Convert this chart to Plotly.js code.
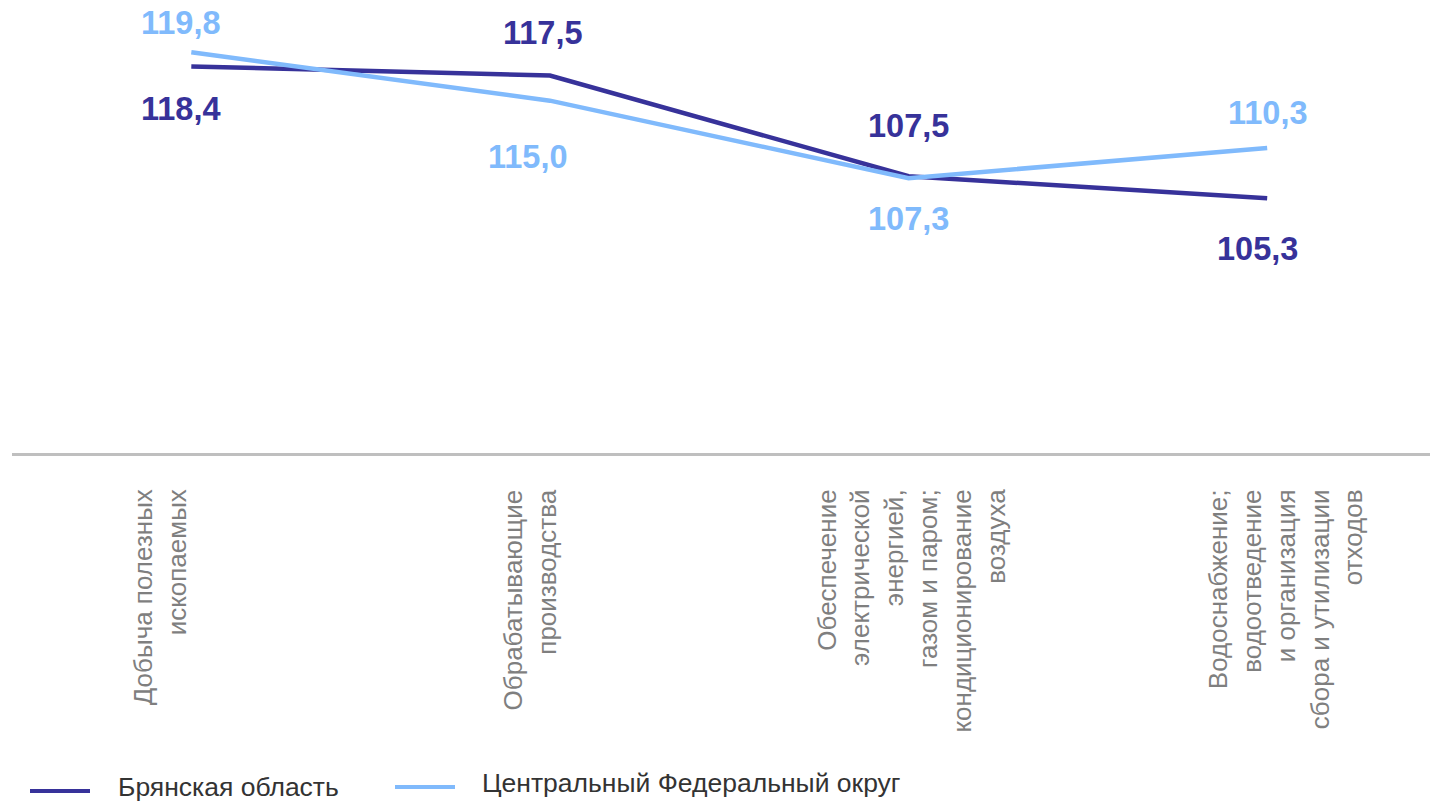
<!DOCTYPE html>
<html>
<head>
<meta charset="utf-8">
<script src="https://cdn.plot.ly/plotly-3.0.1.min.js"></script>
<style>html,body{margin:0;padding:0;background:#fff}#chart{width:1430px;height:804px}</style>
</head>
<body>
<div id="chart"></div>
<script>
var categories = [
  "Добыча полезных<br>ископаемых",
  "Обрабатывающие<br>производства",
  "Обеспечение<br>электрической<br>энергией,<br>газом и паром;<br>кондиционирование<br>воздуха",
  "Водоснабжение;<br>водоотведение<br>и организация<br>сбора и утилизации<br>отходов"
];
var seriesNames = ["Брянская область", "Центральный Федеральный округ"];
var bryansk = [118.4, 117.5, 107.5, 105.3];
var cfo = [119.8, 115.0, 107.3, 110.3];

// label offsets (pixels), styling only
var bryanskShiftY = [-43, 43, 50, -51];
var bryanskShiftX = [-10, -7, 0, -10];
var cfoShiftY = [29, -56, -41, 35];
var cfoShiftX = [-10, -22, 0, 1];
var categoryShiftX = [-31, -20, 2, 18];

var darkColor = "#37329A";
var lightColor = "#80BAFC";
var xIdx = categories.map(function(c, i){ return i; });

function fmt(v){ return v.toFixed(1).replace(".", ","); }

var traces = [
  {x: xIdx, y: bryansk, type: "scatter", mode: "lines", name: seriesNames[0],
   line: {color: darkColor, width: 4.5}, cliponaxis: false, showlegend: false, hoverinfo: "skip"},
  {x: xIdx, y: cfo, type: "scatter", mode: "lines", name: seriesNames[1],
   line: {color: lightColor, width: 4.5}, cliponaxis: false, showlegend: false, hoverinfo: "skip"}
];

var FONT = "Liberation Sans, Arial, sans-serif";
var annotations = [];
bryansk.forEach(function(v, i){
  annotations.push({x: i, y: v, xref: "x", yref: "y", text: fmt(v), showarrow: false,
    xshift: bryanskShiftX[i], yshift: bryanskShiftY[i],
    font: {family: FONT, size: 32.5, color: darkColor, weight: "bold"}});
});
cfo.forEach(function(v, i){
  annotations.push({x: i, y: v, xref: "x", yref: "y", text: fmt(v), showarrow: false,
    xshift: cfoShiftX[i], yshift: cfoShiftY[i],
    font: {family: FONT, size: 32.5, color: lightColor, weight: "bold"}});
});

var plotL = 12, plotW = 1418, plotB = 453;
function px(x){ return (x - plotL) / plotW; }
function py(y){ return (plotB - y) / plotB; }

// category labels (rotated, below the axis line)
categories.forEach(function(c, i){
  annotations.push({x: i, xref: "x", y: py(487), yref: "paper", text: c, showarrow: false,
    textangle: -90, xanchor: "center", yanchor: "top", align: "right",
    xshift: categoryShiftX[i],
    font: {family: FONT, size: 26, color: "#7F7F7F"}});
});

// custom legend
var legendItems = [
  {x0: 30, x1: 90, y: 791, ty: 787, tx: 116, color: darkColor},
  {x0: 395, x1: 455, y: 787, ty: 783, tx: 480, color: lightColor}
];
var shapes = [];
legendItems.forEach(function(it, i){
  shapes.push({type: "line", xref: "paper", yref: "paper", x0: px(it.x0), x1: px(it.x1), y0: py(it.y), y1: py(it.y),
    line: {color: it.color, width: 4}});
  annotations.push({xref: "paper", yref: "paper", x: px(it.tx), y: py(it.ty), xanchor: "left", yanchor: "middle",
    text: seriesNames[i], showarrow: false,
    font: {family: FONT, size: 26.5, color: "#333333"}});
});

var layout = {
  width: 1430, height: 804,
  margin: {l: 12, r: 0, t: 0, b: 351},
  paper_bgcolor: "#ffffff", plot_bgcolor: "#ffffff",
  showlegend: false,
  xaxis: {
    range: [-0.5, 3.454], tickmode: "array", tickvals: xIdx, ticktext: categories,
    showticklabels: false, ticks: "", showgrid: false, zeroline: false,
    showline: true, linecolor: "#BFBFBF", linewidth: 2.5
  },
  yaxis: {range: [80, 125], visible: false, showgrid: false, zeroline: false},
  annotations: annotations,
  shapes: shapes
};

Plotly.newPlot("chart", traces, layout, {displayModeBar: false, staticPlot: true});
</script>
</body>
</html>
